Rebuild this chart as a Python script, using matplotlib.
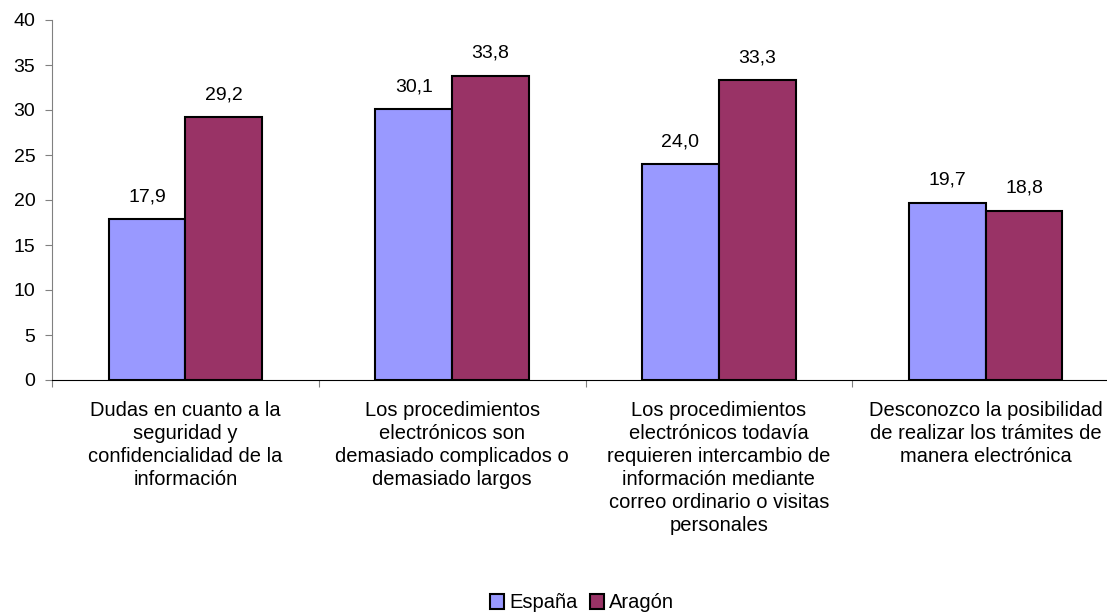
import matplotlib.pyplot as plt
import numpy as np

plt.rcParams['font.family'] = ['Liberation Sans', 'DejaVu Sans']

categories = [
    "Dudas en cuanto a la\nseguridad y\nconfidencialidad de la\ninformación",
    "Los procedimientos\nelectrónicos son\ndemasiado complicados o\ndemasiado largos",
    "Los procedimientos\nelectrónicos todavía\nrequieren intercambio de\ninformación mediante\ncorreo ordinario o visitas\npersonales",
    "Desconozco la posibilidad\nde realizar los trámites de\nmanera electrónica",
]
espana = [17.9, 30.1, 24.0, 19.7]
aragon = [29.2, 33.8, 33.3, 18.8]

fig = plt.figure(figsize=(11.07, 6.13), dpi=100)
ax = fig.add_axes([52 / 1107, 1 - 380 / 613, 1067 / 1107, 360 / 613])

x = np.arange(len(categories))
w = 0.288
b1 = ax.bar(x - w / 2, espana, w, color="#9999FF", edgecolor="black", linewidth=1.5, label="España")
b2 = ax.bar(x + w / 2, aragon, w, color="#993366", edgecolor="black", linewidth=1.5, label="Aragón")

for bars, vals in ((b1, espana), (b2, aragon)):
    for r, v in zip(bars, vals):
        ax.annotate(f"{v:.1f}".replace(".", ","), (r.get_x() + r.get_width() / 2, v),
                    xytext=(0, 10), textcoords="offset points", ha="center", va="bottom",
                    fontsize=14)

ax.set_xlim(-0.5, len(categories) - 0.5)
ax.set_ylim(0, 40)
ax.set_yticks(range(0, 41, 5))
ax.tick_params(axis="y", labelsize=14, length=5, color="#808080", direction="out", pad=7)

ax.set_xticks(np.arange(-0.5, len(categories), 1.0))
ax.set_xticklabels([])
ax.set_xticks(x, minor=True)
ax.set_xticklabels(categories, minor=True, fontsize=14.5, linespacing=1.27)
ax.tick_params(axis="x", which="major", length=5, color="#808080", direction="out")
ax.tick_params(axis="x", which="minor", length=0, pad=15)
for lbl in ax.get_xticklabels(minor=True):
    lbl.set_verticalalignment("top")

for s in ("top", "right"):
    ax.spines[s].set_visible(False)
ax.spines["left"].set_color("#808080")
ax.spines["bottom"].set_color("black")

fig.legend(loc="center", bbox_to_anchor=(582 / 1107, 1 - 603 / 613), ncol=2, frameon=False,
           fontsize=14.5, handlelength=0.7, handleheight=0.7, handletextpad=0.25, columnspacing=0.6,
           borderaxespad=0, borderpad=0)

fig.savefig("out.png", dpi=100)
